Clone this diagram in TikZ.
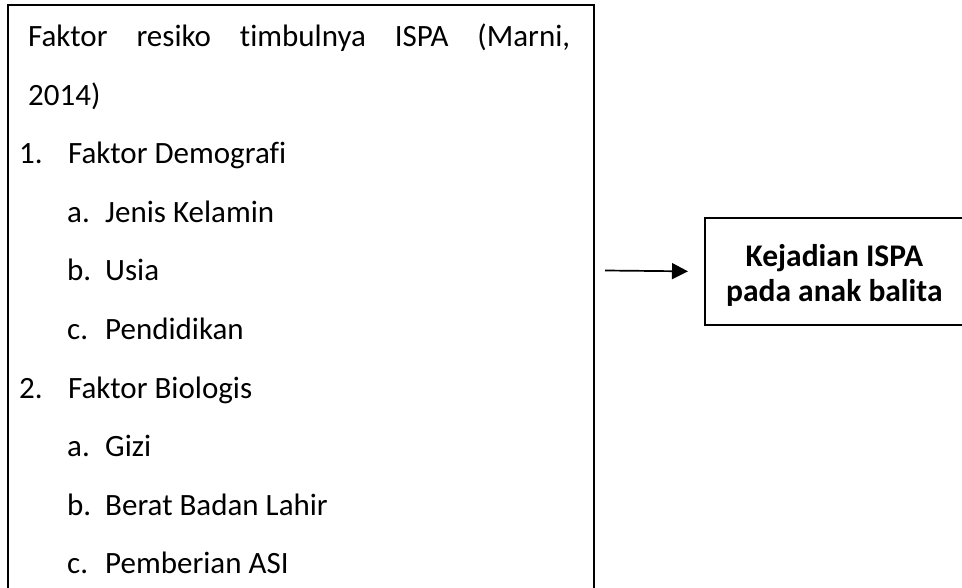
\documentclass[tikz,border=0pt]{standalone}
\usepackage{fontspec}
\setmainfont{Carlito}[Ligatures=NoCommon]
\usetikzlibrary{arrows.meta}

\tikzset{
    kotak/.style={draw, line width=1.7pt, inner sep=0pt},
    baris/.style={anchor=base west, inner sep=0pt, font=\fontsize{31}{36}\selectfont},
    panah/.style={line width=1.7pt, -{Triangle[length=16pt,width=16pt]}}
}

\begin{document}
\begin{tikzpicture}[x=1pt,y=-1pt]
    \useasboundingbox (0,0) rectangle (962,588);
    \node[kotak, minimum width=586pt, minimum height=600pt, anchor=north west] (faktor) at (7,4) {};
    \node[baris] (judul) at (28,47) {\hbox to 542pt{Faktor\hfill resiko\hfill timbulnya\hfill ISPA\hfill (Marni,}};
    \node[baris] (tahun) at (28,105.5) {2014)};
    \node[baris] (no1) at (19,164) {1.};
    \node[baris] (demografi) at (68,164) {Faktor Demografi};
    \node[baris] (a1) at (67,222.5) {a.};
    \node[baris] (kelamin) at (105,222.5) {Jenis Kelamin};
    \node[baris] (b1) at (67,281) {b.};
    \node[baris] (usia) at (105,281) {Usia};
    \node[baris] (c1) at (67,339.5) {c.};
    \node[baris] (pendidikan) at (105,339.5) {Pendidikan};
    \node[baris] (no2) at (19,398) {2.};
    \node[baris] (biologis) at (68,398) {Faktor Biologis};
    \node[baris] (a2) at (67,456.5) {a.};
    \node[baris] (gizi) at (105,456.5) {Gizi};
    \node[baris] (b2) at (67,515) {b.};
    \node[baris] (bblahir) at (105,515) {Berat Badan Lahir};
    \node[baris] (c2) at (67,573.5) {c.};
    \node[baris] (asi) at (105,573.5) {Pemberian ASI};
    \node[kotak, minimum width=259pt, minimum height=107pt, anchor=north west] (kejadian) at (704,217) {};
    \node[align=center, inner sep=0pt, yshift=-4pt, font=\fontsize{31.5}{35.5}\selectfont\bfseries]
        (hasil) at (kejadian.center) {Kejadian ISPA\\pada anak balita};
    \coordinate (pangkal) at (605,270.5);
    \draw[panah] (pangkal) -- ([xshift=-16pt]kejadian.west);
\end{tikzpicture}
\end{document}
